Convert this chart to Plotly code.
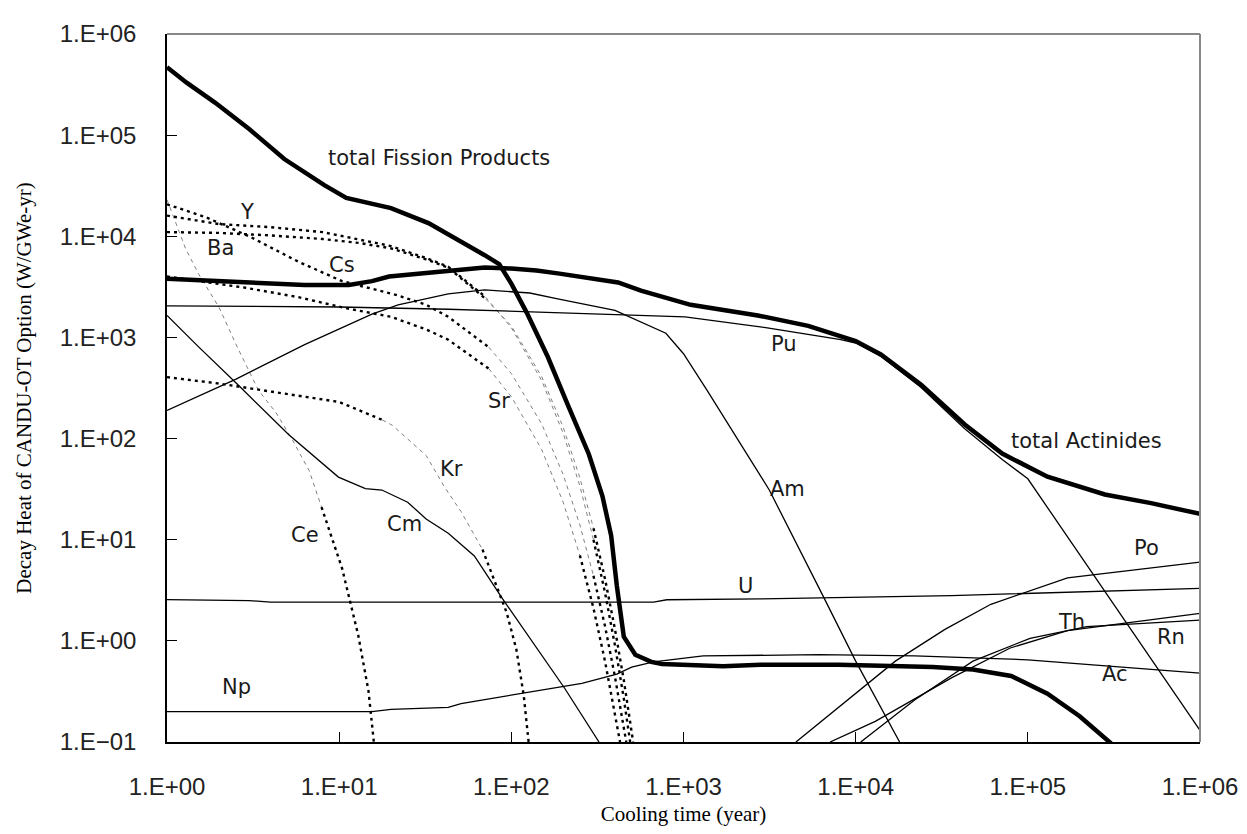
import math
import plotly.graph_objects as go

# ---------------- data (years, W/GWe-yr) ----------------
t_fp_total = [1, 1.3, 1.9, 3, 4.8, 8.2, 11, 15, 20, 33, 49, 70, 85, 100, 123, 163, 214, 282, 338, 380, 410, 450, 525, 650, 750, 1700, 2800, 8000, 28000, 48000, 80000, 130000, 200000, 320000]
v_fp_total = [4.7e5, 3.3e5, 2.1e5, 1.15e5, 5.8e4, 3.2e4, 2.4e4, 2.1e4, 1.9e4, 1.35e4, 9.3e3, 6.5e3, 5.3e3, 3.4e3, 1.75e3, 640, 210, 70, 27, 11, 3.5, 1.1, 0.73, 0.62, 0.59, 0.56, 0.58, 0.58, 0.55, 0.52, 0.45, 0.30, 0.18, 0.09]

t_act_total = [1, 1.75, 3.4, 6.3, 11.4, 15.5, 19.5, 30, 43, 70, 100, 140, 186, 290, 417, 566, 1100, 2700, 5300, 10000, 14000, 24000, 43000, 71000, 130000, 280000, 520000, 1e6]
v_act_total = [3.8e3, 3.65e3, 3.5e3, 3.3e3, 3.3e3, 3.6e3, 4.0e3, 4.3e3, 4.5e3, 4.9e3, 4.8e3, 4.6e3, 4.3e3, 3.8e3, 3.5e3, 2.9e3, 2.1e3, 1.65e3, 1.3e3, 920, 680, 340, 138, 71, 42, 28, 23, 18]

t_pu = [1, 10, 43, 186, 1020, 3000, 8200, 10000, 14000, 24000, 43000, 71000, 100000, 1e6]
v_pu = [2.05e3, 2.0e3, 1.9e3, 1.75e3, 1.6e3, 1.25e3, 950, 880, 650, 320, 125, 62, 40, 0.13]

t_am = [1, 2.5, 6.3, 15.5, 22, 43, 70, 128, 186, 400, 790, 1000, 1380, 3150, 6450, 10000, 18000]
v_am = [190, 385, 850, 1.7e3, 2.1e3, 2.7e3, 2.95e3, 2.75e3, 2.4e3, 1.85e3, 1.1e3, 690, 295, 31, 2.8, 0.63, 0.1]

t_cm = [1, 1.5, 2.6, 5.1, 9.9, 14.2, 17.7, 25, 32, 43, 61, 89, 204, 323]
v_cm = [1.65e3, 830, 336, 109, 41.6, 32, 31, 23.5, 16, 11.6, 6.9, 2.6, 0.34, 0.1]

t_u = [1, 3, 4, 670, 800, 2800, 36000, 1e6]
v_u = [2.56, 2.5, 2.42, 2.42, 2.55, 2.6, 2.8, 3.3]

t_np = [1, 15.5, 20, 43, 51, 128, 257, 410, 500, 670, 1300, 6100, 22000, 1e5, 1e6]
v_np = [0.2, 0.2, 0.21, 0.22, 0.24, 0.31, 0.38, 0.47, 0.55, 0.62, 0.71, 0.73, 0.71, 0.65, 0.48]

t_po = [4500, 7900, 17000, 33000, 61000, 170000, 1e6]
v_po = [0.1, 0.22, 0.63, 1.3, 2.3, 4.2, 6.0]

t_th = [7100, 13000, 36000, 79000, 170000, 1e6]
v_th = [0.1, 0.16, 0.43, 0.85, 1.26, 1.87]

t_rn = [10700, 22000, 48000, 103000, 220000, 1e6]
v_rn = [0.1, 0.26, 0.63, 1.06, 1.38, 1.6]

t_y = [1, 2, 4, 8, 13, 20, 32, 43, 71, 100, 150, 200, 250, 300, 350, 400, 450, 490]
v_y = [1.6e4, 1.32e4, 1.23e4, 1.1e4, 9.3e3, 8.0e3, 6.1e3, 5.0e3, 2.5e3, 1.25e3, 375, 113, 34, 10, 3.0, 0.9, 0.27, 0.1]

t_ba = [1, 2, 4, 8, 13, 20, 32, 43, 71, 100, 150, 200, 250, 300, 350, 400, 450, 510]
v_ba = [1.1e4, 1.08e4, 1.02e4, 9.4e3, 8.6e3, 7.6e3, 5.9e3, 4.9e3, 2.4e3, 1.3e3, 410, 130, 41, 13, 4.1, 1.3, 0.41, 0.1]

t_cs = [1, 1.67, 3, 5.8, 10.4, 22, 32, 43, 74, 100, 150, 200, 250, 300, 350, 400, 450, 465]
v_cs = [2.07e4, 1.55e4, 1.0e4, 5.6e3, 3.6e3, 2.6e3, 2.1e3, 1.6e3, 800, 440, 140, 44, 14, 4.4, 1.4, 0.44, 0.14, 0.1]

t_sr = [1, 2.85, 5.8, 10.9, 20, 32, 43, 74, 100, 150, 200, 250, 300, 350, 400, 428]
v_sr = [4.0e3, 3.1e3, 2.5e3, 1.95e3, 1.6e3, 1.2e3, 950, 490, 260, 78, 23.5, 7, 2.1, 0.63, 0.19, 0.1]

t_ce = [1, 1.28, 1.53, 2.0, 2.6, 3.4, 4.3, 5.3, 6.7, 7.9, 10.4, 12.9, 14.8, 15.9]
v_ce = [2.3e4, 7.6e3, 4.2e3, 2e3, 760, 300, 180, 100, 48, 21, 5.2, 1.14, 0.32, 0.1]

t_kr = [1, 2, 4.1, 10, 17.8, 20.4, 32, 41, 51, 68, 81, 94, 107, 118, 126]
v_kr = [405, 350, 290, 230, 153, 135, 68, 33, 19, 8, 3.6, 1.9, 0.82, 0.29, 0.1]

x_tickvals = [1, 10, 100, 1e3, 1e4, 1e5, 1e6]
x_ticktext = ["1.E+00", "1.E+01", "1.E+02", "1.E+03", "1.E+04", "1.E+05", "1.E+06"]
y_tickvals = [0.1, 1, 10, 100, 1e3, 1e4, 1e5, 1e6]
y_ticktext = ["1.E\u221201", "1.E+00", "1.E+01", "1.E+02", "1.E+03", "1.E+04", "1.E+05", "1.E+06"]

# label text and positions (data coords)
lbl_text = ["total Fission Products", "Y", "Ba", "Cs", "Sr", "Kr", "Cm", "Ce", "Np",
            "Pu", "Am", "total Actinides", "Po", "U", "Th", "Rn", "Ac"]
lbl_x = [8.4, 2.9, 2.04, 10.4, 85, 45, 24, 6.3, 2.55,
         3850, 4000, 78000, 4.9e5, 2300, 1.8e5, 6.8e5, 3.2e5]
lbl_y = [5.9e4, 1.72e4, 7.6e3, 5.2e3, 235, 50, 14.4, 11.2, 0.35,
         870, 32, 95, 8.3, 3.5, 1.55, 1.1, 0.47]
lbl_anchor = ["left", "center", "center", "center", "center", "center", "center", "center", "center",
              "center", "center", "left", "center", "center", "center", "center", "center"]

# ---------------- figure ----------------
fig = go.Figure()

def solid(t, v, w):
    fig.add_trace(go.Scatter(x=t, y=v, mode="lines", line=dict(color="black", width=w),
                             hoverinfo="skip", showlegend=False))

DOT = dict(color="black", width=2.4, dash="3px,4px")
GRAY = dict(color="#808080", width=1, dash="4px,4px")

def mixed(t, v, parts):
    for a, b, kind in parts:
        b = len(t) if b is None else b
        fig.add_trace(go.Scatter(x=t[a:b], y=v[a:b], mode="lines",
                                 line=DOT if kind == "dot" else GRAY,
                                 hoverinfo="skip", showlegend=False))

# fission product elements
mixed(t_ce, v_ce, [(0, 10, "gray"), (9, None, "dot")])
mixed(t_kr, v_kr, [(0, 5, "dot"), (4, 10, "gray"), (9, None, "dot")])
mixed(t_y, v_y, [(0, 9, "dot"), (8, 14, "gray"), (13, None, "dot")])
mixed(t_ba, v_ba, [(0, 9, "dot"), (8, 14, "gray"), (13, None, "dot")])
mixed(t_cs, v_cs, [(0, 9, "dot"), (8, 14, "gray"), (13, None, "dot")])
mixed(t_sr, v_sr, [(0, 8, "dot"), (7, 12, "gray"), (11, None, "dot")])

# actinide elements
for t, v in [(t_pu, v_pu), (t_am, v_am), (t_cm, v_cm), (t_u, v_u), (t_np, v_np),
             (t_po, v_po), (t_th, v_th), (t_rn, v_rn)]:
    solid(t, v, 1.3)

# totals
solid(t_fp_total, v_fp_total, 4.5)
solid(t_act_total, v_act_total, 4.5)

for txt, xx, yy, anc in zip(lbl_text, lbl_x, lbl_y, lbl_anchor):
    fig.add_annotation(x=math.log10(xx), y=math.log10(yy),
                       text=txt, showarrow=False, xanchor=anc, yanchor="middle",
                       font=dict(family="DejaVu Sans", size=21, color="#1a1a1a"))

fig.update_layout(
    width=1247, height=834,
    margin=dict(l=159, r=55, t=17, b=100),
    paper_bgcolor="white", plot_bgcolor="white",
    showlegend=False,
    font=dict(family="Liberation Sans", color="black"),
    xaxis=dict(type="log", range=[0, 6], tickvals=x_tickvals, ticktext=x_ticktext,
               ticks="inside", ticklen=10, tickcolor="black", tickwidth=1,
               showline=True, linecolor="black", linewidth=1.5, showgrid=False, zeroline=False,
               tickfont=dict(family="Liberation Sans", size=24, color="#222222"),
               ticklabelstandoff=22,
               title=dict(text="Cooling time (year)", standoff=8,
                          font=dict(family="Liberation Serif", size=21, color="black"))),
    yaxis=dict(type="log", range=[-1, 6], tickvals=y_tickvals, ticktext=y_ticktext,
               ticks="inside", ticklen=10, tickcolor="black", tickwidth=1,
               showline=True, linecolor="black", linewidth=1.5, showgrid=False, zeroline=False,
               tickfont=dict(family="Liberation Sans", size=24, color="#222222"),
               ticklabelstandoff=24,
               title=dict(text="Decay Heat of CANDU-OT Option (W/GWe-yr)", standoff=22,
                          font=dict(family="Liberation Serif", size=21, color="black"))),
    shapes=[
        dict(type="line", xref="paper", yref="paper", x0=0, x1=1, y0=1, y1=1,
             line=dict(color="#888888", width=2)),
        dict(type="line", xref="paper", yref="paper", x0=1, x1=1, y0=0, y1=1,
             line=dict(color="#888888", width=2)),
    ],
)

fig.write_html("out.html")
